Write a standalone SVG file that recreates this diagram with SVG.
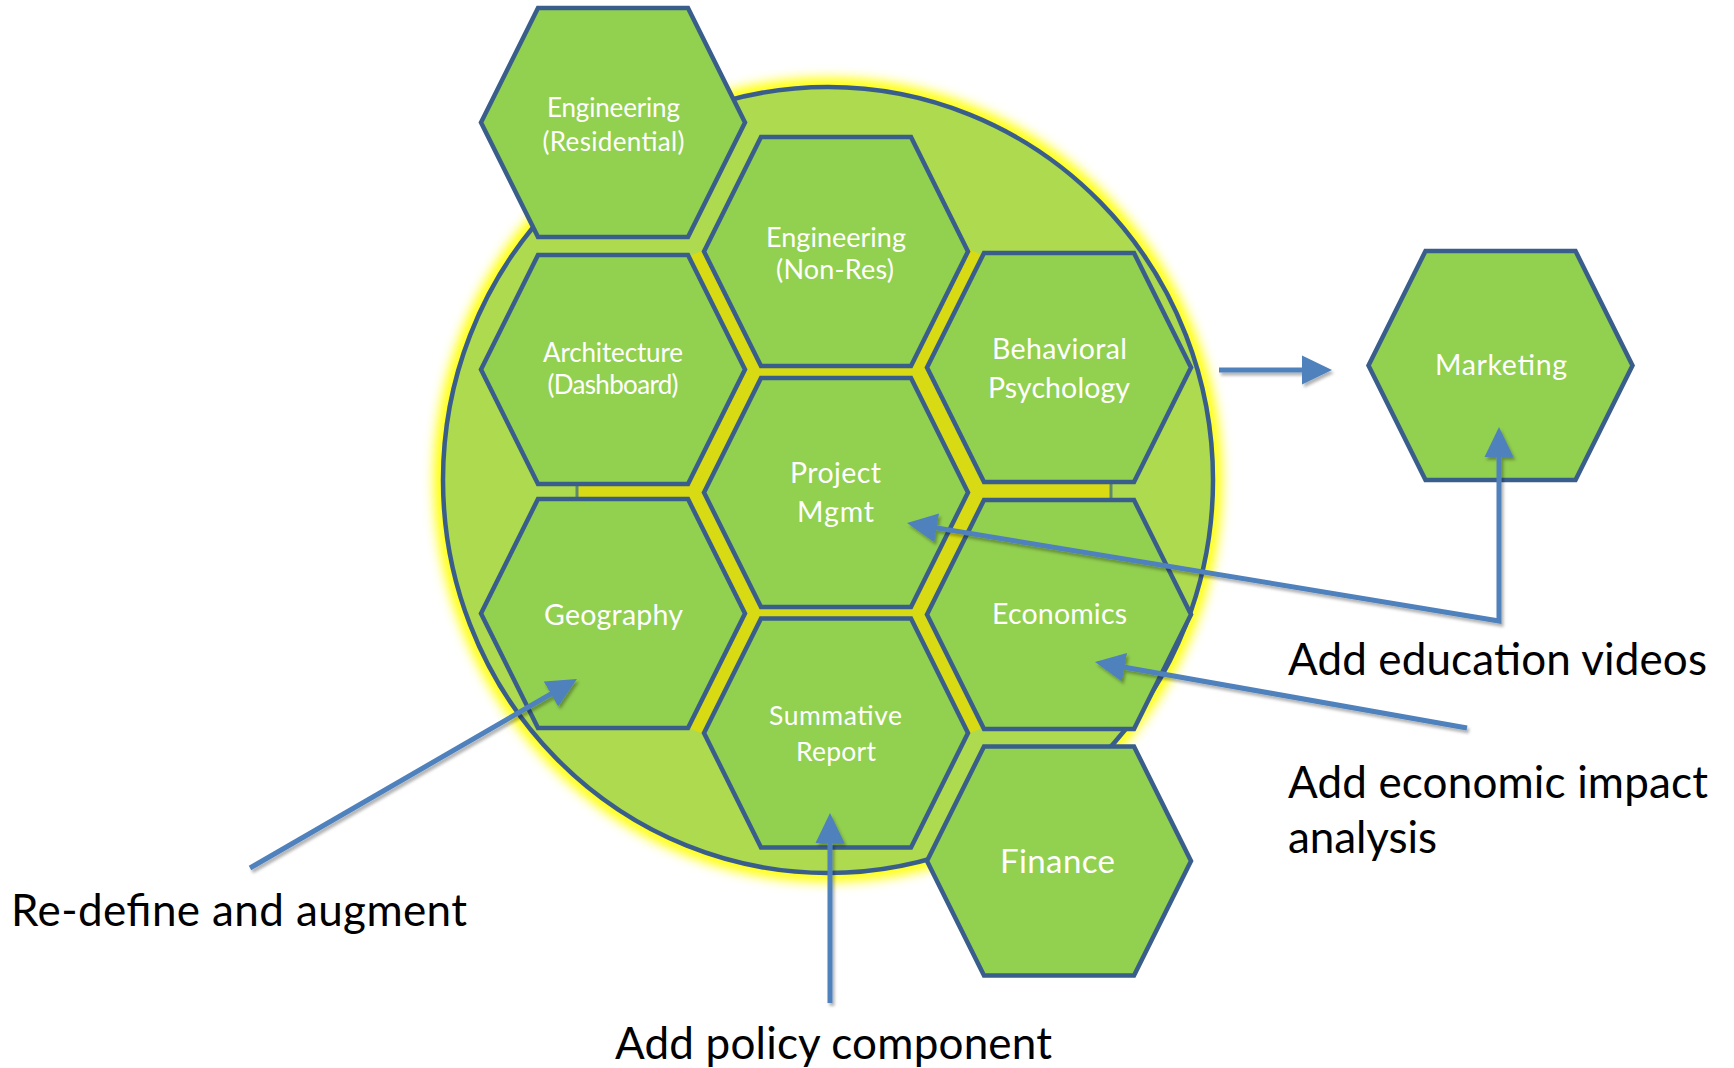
<svg xmlns="http://www.w3.org/2000/svg" xmlns:xlink="http://www.w3.org/1999/xlink" width="1734" height="1068" viewBox="0 0 1734 1068">
  <style>
    .hex { fill: #92D050; stroke: #3A5E8C; stroke-width: 4.5; stroke-linejoin: miter; }
    .lbl { font-family: Lato, "Open Sans", "Liberation Sans", sans-serif; fill: #FFFFFF; text-anchor: middle; }
    .ann { font-family: Lato, "Open Sans", "Liberation Sans", sans-serif; fill: #000000; font-size: 44px; }
    .conn { fill: none; stroke: #4F81BD; stroke-width: 5; }
    .gap { stroke: #D8DA13; fill: none; }
  </style>
  <defs>
    <polygon id="hexshape" points="-132,0 -75,-114.5 75,-114.5 132,0 75,114.5 -75,114.5"/>
    <marker id="arrow" markerUnits="userSpaceOnUse" markerWidth="30" markerHeight="30" viewBox="0 0 30 30" refX="20" refY="15" orient="auto-start-reverse">
      <path d="M0,0.5 L30,15 L0,29.5 z" fill="#4F81BD"/>
    </marker>
    <filter id="glow" x="-20%" y="-20%" width="140%" height="140%">
      <feGaussianBlur stdDeviation="6"/>
    </filter>
    <filter id="shadow" x="-10%" y="-10%" width="120%" height="120%">
      <feDropShadow dx="2" dy="3" stdDeviation="1.5" flood-color="#000000" flood-opacity="0.3"/>
    </filter>
  </defs>

  <!-- big circle with yellow glow -->
  <g id="circle">
    <ellipse cx="828" cy="480" rx="386" ry="394" fill="none" stroke="#FFFF00" stroke-width="16" filter="url(#glow)"/>
    <ellipse cx="828" cy="480" rx="385" ry="393" fill="#AEDA4F" stroke="#3A5E8C" stroke-width="4.5"/>
  </g>

  <!-- yellow gaps between central hexagons -->
  <g id="gaps">
    <use xlink:href="#hexshape" transform="translate(836,492.5)" class="gap" stroke-width="34"/>
    <line class="gap" stroke-width="17" x1="752" y1="372" x2="696.5" y2="253"/>
    <line class="gap" stroke-width="17" x1="919" y1="372" x2="975" y2="252"/>
    <line class="gap" stroke-width="15" x1="700" y1="491.5" x2="577" y2="491.5"/>
    <line class="gap" stroke-width="19" x1="972" y1="491.5" x2="1111" y2="491.5"/>
    <line class="gap" stroke-width="17" x1="752" y1="612" x2="696" y2="731"/>
    <line class="gap" stroke-width="17" x1="919" y1="612" x2="975" y2="731"/>
    <line x1="577" y1="484" x2="577" y2="499" stroke="#5E8A6A" stroke-width="3"/>
    <line x1="1111" y1="482" x2="1111" y2="501" stroke="#5E8A6A" stroke-width="3"/>
  </g>

  <g id="node-eng-res">
    <use xlink:href="#hexshape" class="hex" transform="translate(613,122.5)"/>
    <text class="lbl" font-size="26" x="613.5" y="117" textLength="133">Engineering</text>
    <text class="lbl" font-size="26" x="613.5" y="151" textLength="142">(Residential)</text>
  </g>
  <g id="node-eng-nonres">
    <use xlink:href="#hexshape" class="hex" transform="translate(836,251.5)"/>
    <text class="lbl" font-size="27" x="836" y="247" textLength="140">Engineering</text>
    <text class="lbl" font-size="27" x="835" y="279" textLength="118">(Non-Res)</text>
  </g>
  <g id="node-architecture">
    <use xlink:href="#hexshape" class="hex" transform="translate(613,369.5)"/>
    <text class="lbl" font-size="26" x="613" y="362" textLength="140">Architecture</text>
    <text class="lbl" font-size="26" x="613" y="394" textLength="131">(Dashboard)</text>
  </g>
  <g id="node-behavioral">
    <use xlink:href="#hexshape" class="hex" transform="translate(1059,367.5)"/>
    <text class="lbl" font-size="28.5" x="1059.5" y="359" textLength="135">Behavioral</text>
    <text class="lbl" font-size="28.5" x="1059" y="398" textLength="142">Psychology</text>
  </g>
  <g id="node-project-mgmt">
    <use xlink:href="#hexshape" class="hex" transform="translate(836,492.5)"/>
    <text class="lbl" font-size="28.5" x="835.5" y="483" textLength="91">Project</text>
    <text class="lbl" font-size="28.5" x="835.5" y="522" textLength="77">Mgmt</text>
  </g>
  <g id="node-geography">
    <use xlink:href="#hexshape" class="hex" transform="translate(613,613.5)"/>
    <text class="lbl" font-size="28.5" x="613.5" y="625" textLength="139">Geography</text>
  </g>
  <g id="node-economics">
    <use xlink:href="#hexshape" class="hex" transform="translate(1059,614.5)"/>
    <text class="lbl" font-size="28.5" x="1059.5" y="624" textLength="135">Economics</text>
  </g>
  <g id="node-summative">
    <use xlink:href="#hexshape" class="hex" transform="translate(836,733)"/>
    <text class="lbl" font-size="26.5" x="835.5" y="725" textLength="133">Summative</text>
    <text class="lbl" font-size="26.5" x="836" y="761" textLength="80">Report</text>
  </g>
  <g id="node-finance">
    <use xlink:href="#hexshape" class="hex" transform="translate(1059,861)"/>
    <text class="lbl" font-size="33" x="1057.5" y="873" textLength="115">Finance</text>
  </g>
  <g id="node-marketing">
    <use xlink:href="#hexshape" class="hex" transform="translate(1500.5,365.5)"/>
    <text class="lbl" font-size="28.5" x="1501" y="375" textLength="132">Marketing</text>
  </g>

  <g id="connectors" filter="url(#shadow)">
    <line class="conn" x1="250" y1="868" x2="568.3" y2="684" marker-end="url(#arrow)"/>
    <line class="conn" x1="830" y1="1003" x2="830" y2="823" marker-end="url(#arrow)"/>
    <line class="conn" x1="1467" y1="728" x2="1104.8" y2="663.7" marker-end="url(#arrow)"/>
    <line class="conn" x1="1219" y1="370" x2="1322" y2="370" marker-end="url(#arrow)"/>
    <path class="conn" d="M916.9,524.6 L1499,621 L1499,437" marker-start="url(#arrow)" marker-end="url(#arrow)"/>
  </g>

  <g id="annotations">
    <text class="ann" x="1288" y="675" textLength="419">Add education videos</text>
    <text class="ann" x="1288" y="798" textLength="420">Add economic impact</text>
    <text class="ann" x="1288" y="853" textLength="149">analysis</text>
    <text class="ann" x="11" y="926" textLength="456">Re-define and augment</text>
    <text class="ann" x="615" y="1059" textLength="437">Add policy component</text>
  </g>
</svg>
